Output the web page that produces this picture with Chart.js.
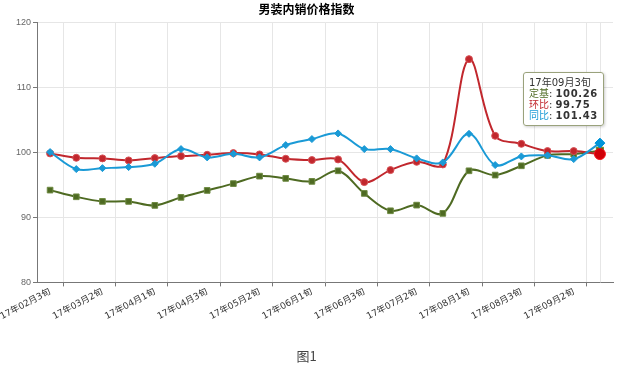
<!DOCTYPE html>
<html>
<head>
<meta charset="utf-8">
<script src="https://cdn.jsdelivr.net/npm/chart.js@4/dist/chart.umd.min.js"></script>
<style>
    html, body { margin: 0; padding: 0; background: #fff; }
    #wrap { position: relative; width: 627px; height: 370px; }
    #tip {
        position: absolute; left: 523px; top: 72px; width: 71px;
        padding: 4px 3px 4px 5px; background: rgba(255,255,255,0.95);
        border: 1px solid #9aa27c; border-radius: 3px;
        box-shadow: 1px 1px 3px rgba(0,0,0,0.2);
        font: 10px "DejaVu Sans", "Noto Sans CJK SC", sans-serif; line-height: 11px;
        color: #333; display: none; white-space: nowrap;
    }
    #tip b { font-weight: bold; color: #333; letter-spacing: 0.6px; }
</style>
</head>
<body>
<div id="wrap">
    <canvas id="chart-lines" width="627" height="370"></canvas>
    <div id="tip"></div>
</div>
<script>
var labels = ['17年02月3旬', '17年03月1旬', '17年03月2旬', '17年03月3旬', '17年04月1旬', '17年04月2旬',
    '17年04月3旬', '17年05月1旬', '17年05月2旬', '17年05月3旬', '17年06月1旬', '17年06月2旬',
    '17年06月3旬', '17年07月1旬', '17年07月2旬', '17年07月3旬', '17年08月1旬', '17年08月2旬',
    '17年08月3旬', '17年09月1旬', '17年09月2旬', '17年09月3旬'];

var dingji = [94.20, 93.17, 92.46, 92.46, 91.85, 93.08, 94.15, 95.20, 96.35, 96.00, 95.54, 97.17,
    93.69, 91.02, 91.89, 90.62, 97.17, 96.51, 97.94, 99.54, 99.74, 100.26];
var huanbi = [99.85, 99.17, 99.08, 98.77, 99.12, 99.43, 99.63, 99.89, 99.69, 99.02, 98.82, 98.92,
    95.43, 97.28, 98.55, 98.15, 114.35, 102.55, 101.32, 100.20, 100.20, 99.75];
var tongbi = [100.05, 97.43, 97.58, 97.74, 98.25, 100.51, 99.23, 99.78, 99.23, 101.12, 102.05, 102.92,
    100.51, 100.51, 99.08, 98.46, 102.86, 98.05, 99.38, 99.54, 98.97, 101.43];

var yTicks = [80, 90, 100, 110, 120];

var cGreen = '#4e6a22';
var cRed = '#c1272d';
var cBlue = '#1a9ad6';

// grid line through the last point
var lastLine = {
    id: 'lastLine',
    beforeDatasetsDraw: function (chart) {
        var x = chart.scales.x.getPixelForValue(labels.length - 1);
        var ctx = chart.ctx;
        ctx.save();
        ctx.strokeStyle = '#e6e6e6';
        ctx.lineWidth = 1;
        ctx.beginPath();
        ctx.moveTo(Math.round(x) + 0.5, chart.chartArea.top);
        ctx.lineTo(Math.round(x) + 0.5, chart.chartArea.bottom);
        ctx.stroke();
        ctx.restore();
    }
};

function externalTip(context) {
    var tip = document.getElementById('tip');
    var model = context.tooltip;
    if (model.opacity === 0) {
        tip.style.display = 'none';
        return;
    }
    var pts = model.dataPoints.slice().sort(function (a, b) { return a.datasetIndex - b.datasetIndex; });
    var html = '<div>' + pts[0].label + '</div>';
    pts.forEach(function (p) {
        html += '<div><span style="color:' + p.dataset.borderColor + '">' + p.dataset.label +
            '</span>: <b>' + p.raw.toFixed(2) + '</b></div>';
    });
    tip.innerHTML = html;
    tip.style.display = 'block';
}

var chart = new Chart(document.getElementById('chart-lines').getContext('2d'), {
    type: 'line',
    data: {
        labels: labels,
        datasets: [{
            label: '定基',
            data: dingji,
            borderColor: cGreen,
            backgroundColor: cGreen,
            borderWidth: 2,
            pointStyle: 'rect',
            pointRadius: 4,
            pointHoverRadius: 5,
            pointBorderWidth: 1,
            pointBorderColor: '#6e8a42',
            pointHoverBorderWidth: 1,
            tension: 0.35,
            order: 3
        }, {
            label: '环比',
            data: huanbi,
            borderColor: cRed,
            backgroundColor: cRed,
            borderWidth: 2,
            pointStyle: 'circle',
            pointRadius: 3.5,
            pointHoverRadius: 5.5,
            pointBorderWidth: 1,
            pointBorderColor: '#d65055',
            pointHoverBorderWidth: 1,
            tension: 0.35,
            order: 2
        }, {
            label: '同比',
            data: tongbi,
            borderColor: cBlue,
            backgroundColor: cBlue,
            borderWidth: 2,
            pointStyle: 'rectRot',
            pointRadius: 3.5,
            pointHoverRadius: 5,
            pointBorderWidth: 1,
            pointBorderColor: cBlue,
            pointHoverBorderWidth: 1,
            tension: 0.35,
            order: 1
        }]
    },
    options: {
        responsive: false,
        animation: false,
        layout: { padding: { left: 0, right: 14, top: 0, bottom: 0 } },
        interaction: { mode: 'index', intersect: false },
        events: [],
        plugins: {
            legend: { display: false },
            title: {
                display: true,
                text: '男装内销价格指数',
                color: '#000',
                font: { family: '"Noto Sans CJK SC", sans-serif', size: 12, weight: 'bold' },
                padding: { top: 2, bottom: 6 }
            },
            subtitle: {
                display: true,
                position: 'bottom',
                text: '图1',
                color: '#444',
                font: { family: '"Noto Sans CJK SC", sans-serif', size: 13 },
                padding: { top: 0, bottom: 6 }
            },
            tooltip: { enabled: false, external: externalTip }
        },
        scales: {
            x: {
                offset: true,
                afterFit: function (scale) {
                    scale.height = 66;
                    scale.paddingLeft = 0;
                },
                grid: {
                    offset: true,
                    drawOnChartArea: true,
                    tickLength: 4,
                    color: function (ctx) { return ctx.index % 2 === 1 ? '#e6e6e6' : 'rgba(0,0,0,0)'; },
                    tickColor: function (ctx) { return ctx.index % 2 === 1 ? '#777' : 'rgba(0,0,0,0)'; }
                },
                border: { color: '#777', width: 1 },
                ticks: {
                    autoSkip: false,
                    minRotation: 28,
                    maxRotation: 28,
                    padding: 0,
                    color: '#333',
                    font: { family: '"DejaVu Sans", "Noto Sans CJK SC", sans-serif', size: 9 },
                    callback: function (v, i) { return i % 2 === 0 ? labels[i] : ''; }
                }
            },
            y: {
                min: yTicks[0],
                max: yTicks[yTicks.length - 1],
                afterFit: function (scale) { scale.width = 37; },
                afterBuildTicks: function (scale) {
                    scale.ticks = yTicks.map(function (v) { return { value: v }; });
                },
                grid: { color: '#e6e6e6', tickLength: 4, tickColor: '#777' },
                border: { color: '#777', width: 1 },
                ticks: {
                    padding: 2,
                    color: '#666',
                    font: { family: '"Liberation Sans", Arial, sans-serif', size: 9 }
                }
            }
        }
    },
    plugins: [lastLine]
});

// show hover state on the last decade, like the reference
var last = labels.length - 1;
var act = [0, 1, 2].map(function (d) { return { datasetIndex: d, index: last }; });
chart.setActiveElements(act);
chart.tooltip.setActiveElements(act, { x: chart.scales.x.getPixelForValue(last), y: 150 });
chart.update();
</script>
</body>
</html>
